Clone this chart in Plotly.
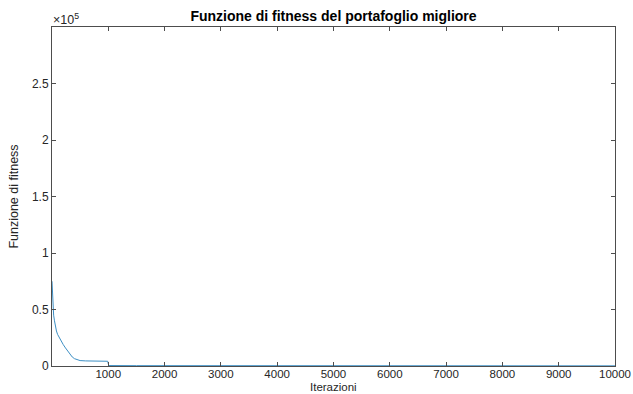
import plotly.graph_objects as go

iterazioni = [1, 5, 10, 20, 30, 45, 60, 80, 100, 130, 160, 200, 240, 270, 300,
              330, 360, 400, 450, 500, 600, 800, 990, 1000, 1010, 1500, 3000, 10000]
fitness = [75000, 68000, 60000, 50000, 45000, 40000, 35000, 31000, 28000, 25000,
           22000, 19000, 16000, 14000, 13000, 10000, 8000, 6500, 5500, 4800, 4500,
           4300, 4200, 2000, 400, 300, 200, 150]

x_ticks = [1000, 2000, 3000, 4000, 5000, 6000, 7000, 8000, 9000, 10000]
x_tick_labels = ["1000", "2000", "3000", "4000", "5000", "6000", "7000", "8000", "9000", "10000"]
y_ticks = [0, 50000, 100000, 150000, 200000, 250000]
y_tick_labels = ["0", "0.5", "1", "1.5", "2", "2.5"]

font = "Liberation Sans, Arial, sans-serif"
axis_color = "#4d4d4d"

fig = go.Figure()
fig.add_trace(go.Scatter(
    x=iterazioni, y=fitness, mode="lines",
    line=dict(color="#3d8fc4", width=1),
    showlegend=False,
))

fig.update_layout(
    width=633, height=394,
    margin=dict(l=52, r=18, t=27, b=28),
    paper_bgcolor="white", plot_bgcolor="white",
    font=dict(family=font, size=12, color="#262626"),
    title=dict(text="<b>Funzione di fitness del portafoglio migliore</b>",
               x=0.5, xanchor="center", xref="paper",
               y=1, yref="container", yanchor="top", pad=dict(t=11),
               font=dict(size=14, color="#000000")),
    xaxis=dict(
        range=[1, 10000], tickvals=x_ticks, ticktext=x_tick_labels,
        ticks="inside", ticklen=4,
        tickcolor=axis_color, showline=True, linecolor=axis_color, linewidth=1,
        mirror="ticks", showgrid=False, zeroline=False,
        ticklabeloverflow="allow", automargin=False, ticklabelstandoff=-3,
        tickfont=dict(size=11.5),
    ),
    yaxis=dict(
        range=[0, 300000], tickvals=y_ticks, ticktext=y_tick_labels,
        ticks="inside", ticklen=4, tickcolor=axis_color, showline=True,
        linecolor=axis_color, linewidth=1, mirror="ticks", showgrid=False,
        zeroline=False, automargin=False,
        title=dict(text="Funzione di fitness", standoff=10, font=dict(size=12.5)),
        tickfont=dict(size=12),
    ),
    annotations=[
        dict(text="\u00d710<sup>5</sup>", xref="paper", yref="paper",
             x=0, y=1, xanchor="left", yanchor="bottom", showarrow=False,
             font=dict(size=12.5, color="#262626"), yshift=-2, xshift=-1),
        dict(text="Iterazioni", xref="paper", yref="paper",
             x=0.5, y=0, xanchor="center", yanchor="top", showarrow=False,
             borderpad=0,
             font=dict(size=11.5, color="#262626"), yshift=-14),
    ],
)

fig.write_html("out.html", config={"displayModeBar": False},
               post_script="document.body.style.margin='0';")
